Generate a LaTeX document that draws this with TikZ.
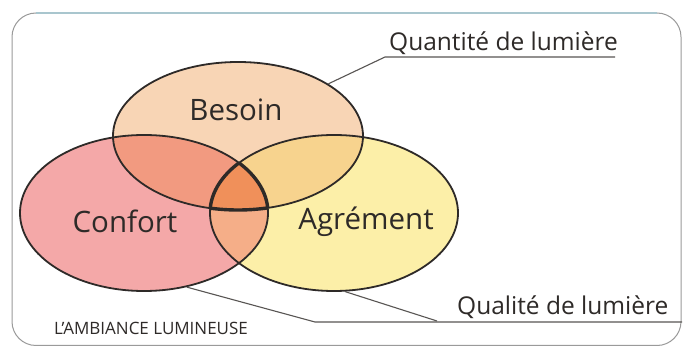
\documentclass[tikz,border=0pt]{standalone}
\usepackage{fontspec}
\setmainfont{Open Sans}
\usepackage{graphicx}
\usetikzlibrary{shapes.geometric}
\definecolor{cB}{HTML}{F8D5B5}
\definecolor{cC}{HTML}{F4A8A8}
\definecolor{cA}{HTML}{FCEFA8}
\definecolor{cBC}{HTML}{F29A80}
\definecolor{cBA}{HTML}{F7D38E}
\definecolor{cCA}{HTML}{F5AE88}
\definecolor{cBCA}{HTML}{F0905A}
\definecolor{ink}{HTML}{2E2A28}
\definecolor{frameblue}{HTML}{A9C6CE}
\definecolor{framegray}{HTML}{9A9A9A}
\tikzset{
  ring/.style={ellipse, draw=ink, line width=1.8pt, inner sep=0pt},
  lab/.style={font=\fontsize{29.5}{32}\selectfont, text=ink, inner sep=0pt},
  note/.style={font=\fontsize{24.5}{28}\selectfont, text=ink, inner sep=0pt, anchor=base west},
  leader/.style={draw=ink!80, line width=1.1pt},
}
\begin{document}
\begin{tikzpicture}[x=1pt,y=-1pt]
\useasboundingbox (0,0) rectangle (686,347);
\fill[white] (0,0) rectangle (686,347);
% frame
\draw[framegray, line width=1pt, rounded corners=24pt] (12,13) rectangle (681,345.5);
\draw[frameblue, line width=1.2pt] (36,13) -- (657,13);
% ellipse paths
\def\pB{(238,136) ellipse [x radius=125, y radius=74]}
\def\pC{(144,213) ellipse [x radius=124, y radius=78]}
\def\pA{(334,213) ellipse [x radius=124, y radius=78]}
\fill[cB] \pB;
\fill[cC] \pC;
\fill[cA] \pA;
\begin{scope}\clip \pB; \fill[cBC] \pC; \fill[cBA] \pA; \end{scope}
\begin{scope}\clip \pC; \fill[cCA] \pA; \end{scope}
\begin{scope}\clip \pB; \clip \pC; \fill[cBCA] \pA; \end{scope}
% outlines as nodes
\node[ring, minimum width=250pt, minimum height=148pt] (besoin) at (238,136) {};
\node[ring, minimum width=248pt, minimum height=156pt] (confort) at (144,213) {};
\node[ring, minimum width=248pt, minimum height=156pt] (agrement) at (334,213) {};
% thicker central region
\begin{scope}\clip \pB; \clip \pC; \draw[ink, line width=3.4pt] \pA; \end{scope}
\begin{scope}\clip \pB; \clip \pA; \draw[ink, line width=3.4pt] \pC; \end{scope}
\begin{scope}\clip \pC; \clip \pA; \draw[ink, line width=3.4pt] \pB; \end{scope}
% labels
\node[lab] (tB) at (236,110) {Besoin};
\node[lab] (tC) at (125,221) {Confort};
\node[lab] (tA) at (366,222) {Agrément};
% notes
\node[note] (quant) at (389,51) {Quantité de lumière};
\node[note] (qual) at (457,315) {Qualité de lumière};
\coordinate (q1) at (385,57);
\coordinate (q2) at (615,57);
\coordinate (l1) at (315,322);
\coordinate (l2) at (437,321);
\coordinate (l3) at (682,322);
\draw[leader] (besoin.30) -- (q1) -- (q2);
\draw[leader] (confort.-60) -- (l1) -- (l3);
\draw[leader] (agrement.-82) -- (l2);
\node[font=\fontsize{17}{20}\selectfont, text=ink, inner sep=0pt] (amb) at (151,328) {\scalebox{1.0}[1]{L'AMBIANCE LUMINEUSE}};
\end{tikzpicture}
\end{document}
